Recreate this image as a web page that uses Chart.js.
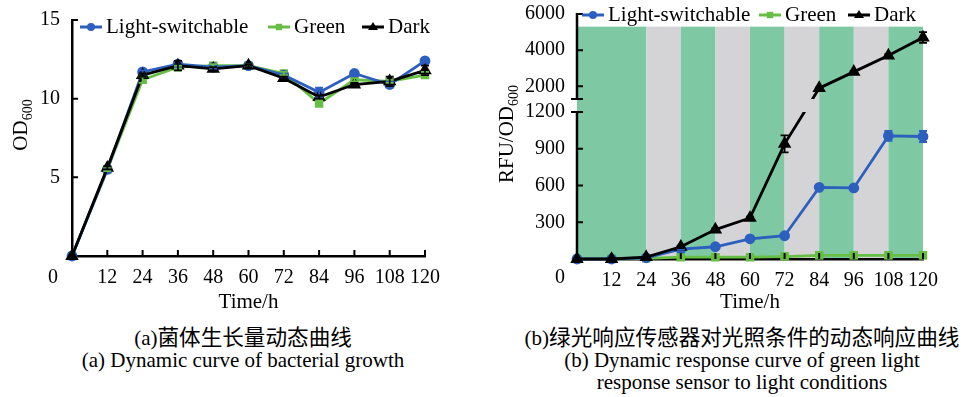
<!DOCTYPE html>
<html lang="zh">
<head>
<meta charset="UTF-8">
<title>OD600 and RFU/OD600 dynamics</title>
<script src="https://cdn.jsdelivr.net/npm/chart.js@4"></script>
<style>
    body {
        margin: 0;
        background: #fff;
        width: 968px;
        height: 397px;
        position: relative;
        overflow: hidden;
        font-family: 'Liberation Serif', serif;
    }

    canvas {
        position: absolute;
        top: 0;
    }

    #chartA { left: 0; }
    #chartB { left: 480px; }

    /* captions under each panel */
    .caption {
        position: absolute;
        top: 325px;
        text-align: center;
        font-size: 21px;
        line-height: 22px;
        color: #000;
        white-space: nowrap;
    }

    .caption .zh {
        font-family: 'Noto Sans CJK SC', sans-serif;
        font-size: 21.6px;
    }
</style>
</head>
<body>

<canvas id="chartA" width="480" height="320"></canvas>
<canvas id="chartB" width="488" height="320"></canvas>

<div class="caption" style="left:43px; width:400px;">
    <div><span>(a)</span><span class="zh">菌体生长量动态曲线</span></div>
    <div>(a) Dynamic curve of bacterial growth</div>
</div>
<div class="caption" style="left:517px; width:450px;">
    <div><span>(b)</span><span class="zh">绿光响应传感器对光照条件的动态响应曲线</span></div>
    <div>(b) Dynamic response curve of green light</div>
    <div>response sensor to light conditions</div>
</div>

<script>
    // ---- data ----
    const hours = [0, 12, 24, 36, 48, 60, 72, 84, 96, 108, 120];
    const timeTicks = [0, 12, 24, 36, 48, 60, 72, 84, 96, 108, 120];

    // (a) OD600
    const odLight = [0, 5.5, 11.7, 12.2, 12.0, 12.1, 11.5, 10.4, 11.6, 10.9, 12.4];
    const odGreen = [0, 5.5, 11.2, 12.0, 12.1, 12.1, 11.6, 9.7, 11.2, 11.1, 11.5];
    const odDark = [0, 5.6, 11.5, 12.1, 11.9, 12.1, 11.3, 10.1, 10.9, 11.1, 11.8];
    const odLightErr = [0, 0.1, 0.1, 0.2, 0.1, 0.1, 0.1, 0.3, 0.1, 0.2, 0.1];
    const odGreenErr = [0, 0.1, 0.2, 0.1, 0.1, 0.1, 0.1, 0.2, 0.1, 0.1, 0.2];
    const odDarkErr = [0, 0.1, 0.1, 0.3, 0.1, 0.1, 0.1, 0.1, 0.1, 0.3, 0.3];
    const odTicks = [5, 10, 15];

    // (b) RFU/OD600 (broken axis between 1200 and 1300)
    const rfuLight = [0, 0, 10, 80, 100, 165, 190, 585, 580, 1005, 1000];
    const rfuGreen = [0, 0, 5, 15, 15, 15, 20, 30, 30, 30, 30];
    const rfuDark = [0, 0, 15, 100, 240, 335, 940, 1900, 2800, 3700, 4700];
    const rfuLightErr = [0, 0, 0, 5, 10, 10, 10, 10, 10, 40, 45];
    const rfuGreenErr = [0, 0, 0, 25, 25, 25, 25, 25, 25, 25, 25];
    const rfuDarkErr = [0, 0, 0, 10, 10, 10, 70, 40, 60, 80, 300];
    const rfuTicks = [300, 600, 900, 1200, 2000, 4000, 6000];
    const rfuBreak = [1200, 1300];

    // light regime bands
    const phaseEdges = [0, 24, 36, 48, 60, 72, 84, 96, 108, 120];
    const phaseLight = ['green', 'dark', 'green', 'dark', 'green', 'dark', 'green', 'dark', 'green'];
    const phaseTop = 5300;

    const seriesNames = ['Light-switchable', 'Green', 'Dark'];

    const BLUE = '#2d5fbf';
    const GREEN = '#66bf44';
    const INK = '#000';
    const SERIF = '"Liberation Serif", "Times New Roman", serif';

    Chart.defaults.font.family = SERIF;
    Chart.defaults.color = INK;

    // linear scale with a piecewise mapping so the axis can be broken
    class BrokenScale extends Chart.LinearScale {
        getPixelForValue(value) {
            if (value === null || isNaN(value)) return NaN;
            const b = this.options.breakAt;
            const f = this.options.breakFrac;
            let d;
            if (value <= b[0]) {
                d = (value - this.min) / (b[0] - this.min) * f[0];
            } else if (value <= b[1]) {
                d = f[0] + (value - b[0]) / (b[1] - b[0]) * (f[1] - f[0]);
            } else {
                d = f[1] + (value - b[1]) / (this.max - b[1]) * (1 - f[1]);
            }
            return this.getPixelForDecimal(d);
        }
    }
    BrokenScale.id = 'broken';
    BrokenScale.defaults = {};
    Chart.register(BrokenScale);

    function points(values) {
        return hours.map((h, i) => ({ x: h, y: values[i] }));
    }

    function series(label, values, errors, color, style, radius, order) {
        return {
            label: label,
            data: points(values),
            errors: errors,
            borderColor: color,
            backgroundColor: color,
            pointBackgroundColor: color,
            pointBorderColor: color,
            pointStyle: style,
            pointRadius: radius,
            borderWidth: 2.8,
            tension: 0,
            clip: false,
            order: order
        };
    }

    function drawMarker(ctx, style, x, y, r, color) {
        ctx.fillStyle = color;
        ctx.beginPath();
        if (style === 'circle') {
            ctx.arc(x, y, r, 0, Math.PI * 2);
        } else if (style === 'rect') {
            ctx.rect(x - r * 0.8, y - r * 0.8, r * 1.6, r * 1.6);
        } else {
            ctx.moveTo(x, y - r);
            ctx.lineTo(x + r, y + r * 0.6);
            ctx.lineTo(x - r, y + r * 0.6);
            ctx.closePath();
        }
        ctx.fill();
    }

    // ---- plugins ----
    const lightPhases = {
        id: 'lightPhases',
        beforeDraw(chart, args, opts) {
            if (!opts.show) return;
            const { ctx, chartArea, scales: { x, y } } = chart;
            const yTop = y.getPixelForValue(phaseTop);
            ctx.save();
            for (let i = 0; i < phaseLight.length; i++) {
                const x0 = x.getPixelForValue(phaseEdges[i]);
                const x1 = x.getPixelForValue(phaseEdges[i + 1]);
                ctx.fillStyle = opts.colors[phaseLight[i]];
                ctx.fillRect(x0, yTop, x1 - x0, chartArea.bottom - yTop);
            }
            ctx.restore();
        }
    };

    const axisGap = {
        id: 'axisGap',
        beforeDatasetsDraw(chart, args, opts) {
            const ctx = chart.ctx;
            ctx.save();
            if (!opts.show) return;
            const y = chart.scales.y;
            const top = y.getPixelForValue(rfuBreak[1]);
            const bot = y.getPixelForValue(rfuBreak[0]);
            ctx.beginPath();
            ctx.rect(0, 0, chart.width, top);
            ctx.rect(0, bot, chart.width, chart.height - bot);
            ctx.clip();
        },
        afterDatasetsDraw(chart) {
            chart.ctx.restore();
        }
    };

    const errorBars = {
        id: 'errorBars',
        afterDatasetsDraw(chart) {
            const ctx = chart.ctx;
            const y = chart.scales.y;
            ctx.save();
            ctx.lineWidth = 1.8;
            chart.data.datasets.forEach((ds, i) => {
                const meta = chart.getDatasetMeta(i);
                ctx.strokeStyle = ds.borderColor;
                ds.errors.forEach((e, j) => {
                    if (!e) return;
                    const v = ds.data[j].y;
                    const px = meta.data[j].x;
                    const y1 = y.getPixelForValue(v + e);
                    const y2 = y.getPixelForValue(Math.max(v - e, 0));
                    ctx.beginPath();
                    ctx.moveTo(px, y1); ctx.lineTo(px, y2);
                    ctx.moveTo(px - 4, y1); ctx.lineTo(px + 4, y1);
                    ctx.moveTo(px - 4, y2); ctx.lineTo(px + 4, y2);
                    ctx.stroke();
                });
            });
            ctx.restore();
        }
    };

    const axisDecor = {
        id: 'axisDecor',
        afterDraw(chart, args, opts) {
            const { ctx, chartArea: a, scales: { x, y } } = chart;
            ctx.save();
            ctx.strokeStyle = INK;
            ctx.lineWidth = 2;
            ctx.beginPath();
            x.ticks.forEach(t => {
                if (t.value === 0) return;
                const px = x.getPixelForValue(t.value);
                ctx.moveTo(px, a.bottom);
                ctx.lineTo(px, a.bottom - opts.len);
            });
            y.ticks.forEach(t => {
                const py = y.getPixelForValue(t.value);
                ctx.moveTo(a.left, py);
                ctx.lineTo(a.left + opts.len, py);
            });
            ctx.stroke();

            if (opts.broken) {
                const pb = y.getPixelForValue(rfuBreak[0]);
                const pt = y.getPixelForValue(rfuBreak[1]);
                ctx.lineWidth = 2.5;
                ctx.beginPath();
                ctx.moveTo(a.left, a.bottom + 1);
                ctx.lineTo(a.left, pb);
                ctx.moveTo(a.left, pt);
                ctx.lineTo(a.left, a.top - 1);
                ctx.stroke();
                ctx.lineWidth = 2;
                ctx.beginPath();
                ctx.moveTo(a.left - opts.len, pb); ctx.lineTo(a.left + opts.len, pb);
                ctx.moveTo(a.left - opts.len, pt); ctx.lineTo(a.left + opts.len, pt);
                ctx.stroke();
            }

            // shared origin label
            ctx.fillStyle = INK;
            ctx.font = '20px ' + SERIF;
            ctx.textAlign = 'center';
            ctx.textBaseline = 'middle';
            ctx.fillText('0', a.left - opts.zeroDx, opts.zeroY);
            ctx.restore();
        }
    };

    const titlesAndLegend = {
        id: 'titlesAndLegend',
        afterDraw(chart, args, opts) {
            const { ctx, chartArea: a } = chart;
            ctx.save();
            ctx.fillStyle = INK;

            // x title
            ctx.font = '21px ' + SERIF;
            ctx.textAlign = 'center';
            ctx.textBaseline = 'middle';
            ctx.fillText('Time/h', (a.left + a.right) / 2, opts.xTitleY);

            // y title with subscript
            const main = opts.yTitle;
            const sub = '600';
            ctx.font = '21px ' + SERIF;
            const wMain = ctx.measureText(main).width;
            ctx.font = '14px ' + SERIF;
            const wSub = ctx.measureText(sub).width;
            ctx.translate(opts.yTitleX, opts.yTitleY);
            ctx.rotate(-Math.PI / 2);
            ctx.textAlign = 'left';
            ctx.textBaseline = 'alphabetic';
            const start = -(wMain + wSub) / 2;
            ctx.font = '21px ' + SERIF;
            ctx.fillText(main, start, 0);
            ctx.font = '14px ' + SERIF;
            ctx.fillText(sub, start + wMain, 5);
            ctx.setTransform(1, 0, 0, 1, 0, 0);

            // legend: line sample with marker, then label
            ctx.font = '21px ' + SERIF;
            ctx.textBaseline = 'middle';
            chart.data.datasets.forEach((ds, i) => {
                const x0 = opts.legendX[i];
                const yy = opts.legendY;
                ctx.strokeStyle = ds.borderColor;
                ctx.lineWidth = 3;
                ctx.beginPath();
                ctx.moveTo(x0, yy);
                ctx.lineTo(x0 + 22, yy);
                ctx.stroke();
                drawMarker(ctx, ds.pointStyle, x0 + 11, yy, ds.pointRadius, ds.borderColor);
                ctx.fillStyle = INK;
                ctx.fillText(ds.label, x0 + 26, yy);
            });
            ctx.restore();
        }
    };

    function tickFont() {
        return { size: 20, family: SERIF };
    }

    function makeChart(canvas, cfg) {
        return new Chart(canvas.getContext('2d'), {
            type: 'line',
            data: { datasets: cfg.datasets },
            options: {
                responsive: false,
                animation: false,
                events: [],
                layout: { padding: cfg.padding },
                plugins: {
                    legend: { display: false },
                    tooltip: { enabled: false },
                    lightPhases: cfg.phases,
                    axisGap: { show: cfg.broken },
                    axisDecor: {
                        len: 6,
                        broken: cfg.broken,
                        zeroDx: cfg.zeroDx,
                        zeroY: 278
                    },
                    titlesAndLegend: cfg.labels
                },
                scales: {
                    x: {
                        type: 'linear',
                        min: 0,
                        max: 120,
                        afterBuildTicks: s => { s.ticks = timeTicks.map(v => ({ value: v })); },
                        afterFit: s => {
                            s.height = cfg.xHeight;
                            s.paddingLeft = 0;
                            s.paddingRight = 0;
                        },
                        grid: { display: false, drawTicks: false },
                        border: { display: true, color: INK, width: 2.5 },
                        ticks: {
                            font: tickFont(),
                            color: INK,
                            padding: 10,
                            maxRotation: 0,
                            autoSkip: false,
                            callback: v => (v === 0 ? '' : String(v))
                        }
                    },
                    y: cfg.y
                }
            },
            plugins: [lightPhases, axisGap, errorBars, axisDecor, titlesAndLegend]
        });
    }

    function yFit(width) {
        return s => {
            s.width = width;
            s.paddingTop = 0;
            s.paddingBottom = 0;
        };
    }

    // (a) bacterial growth
    makeChart(document.getElementById('chartA'), {
        datasets: [
            series(seriesNames[0], odLight, odLightErr, BLUE, 'circle', 4, 1),
            series(seriesNames[1], odGreen, odGreenErr, GREEN, 'rect', 4, 2),
            series(seriesNames[2], odDark, odDarkErr, INK, 'triangle', 5, 0)
        ],
        padding: { left: 0, top: 20, right: 55, bottom: 0 },
        xHeight: 64,
        broken: false,
        zeroDx: 19,
        phases: { show: false },
        labels: {
            yTitle: 'OD',
            yTitleX: 27,
            yTitleY: 125,
            xTitleY: 302,
            legendX: [80, 268, 362],
            legendY: 27
        },
        y: {
            type: 'linear',
            min: 0,
            max: 15,
            afterBuildTicks: s => { s.ticks = odTicks.map(v => ({ value: v })); },
            afterFit: yFit(72),
            grid: { display: false, drawTicks: false },
            border: { display: true, color: INK, width: 2.5 },
            ticks: { font: tickFont(), color: INK, padding: 12, callback: v => String(v) }
        }
    });

    // (b) green light response sensor
    makeChart(document.getElementById('chartB'), {
        datasets: [
            series(seriesNames[0], rfuLight, rfuLightErr, BLUE, 'circle', 4, 1),
            series(seriesNames[1], rfuGreen, rfuGreenErr, GREEN, 'rect', 4, 2),
            series(seriesNames[2], rfuDark, rfuDarkErr, INK, 'triangle', 5, 0)
        ],
        padding: { left: 0, top: 14, right: 45, bottom: 0 },
        xHeight: 61,
        broken: true,
        zeroDx: 17,
        phases: { show: true, colors: { green: '#7ec8a3', dark: '#d4d4d6' } },
        labels: {
            yTitle: 'RFU/OD',
            yTitleX: 33,
            yTitleY: 134,
            xTitleY: 302,
            legendX: [102, 279, 368],
            legendY: 15
        },
        y: {
            type: 'broken',
            min: 0,
            max: 6000,
            breakAt: rfuBreak,
            breakFrac: [0.6, 0.653],
            afterBuildTicks: s => { s.ticks = rfuTicks.map(v => ({ value: v })); },
            afterFit: yFit(97),
            grid: { display: false, drawTicks: false },
            border: { display: false },
            ticks: { font: tickFont(), color: INK, padding: 12, callback: v => String(v) }
        }
    });
</script>

</body>
</html>
